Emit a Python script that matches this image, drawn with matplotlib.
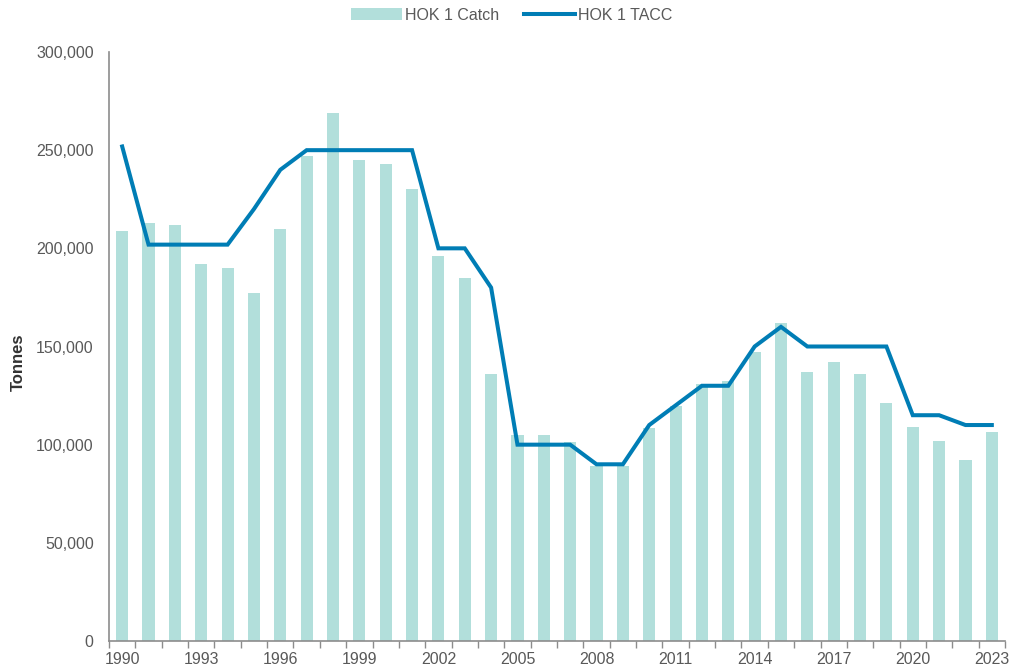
import matplotlib
matplotlib.use("Agg")
import matplotlib.pyplot as plt
from matplotlib.ticker import FuncFormatter, FixedLocator
import numpy as np

plt.rcParams['font.family'] = ['Liberation Sans', 'DejaVu Sans']

years = list(range(1990, 2024))
catch = [209000, 213000, 212000, 192000, 190000, 177000, 210000, 247000, 269000, 245000,
         243000, 230000, 196000, 185000, 136000, 105000, 105000, 101500, 89000, 89000,
         108500, 119700, 131000, 132500, 147000, 162000, 137000, 142000, 136000, 121000,
         109000, 101700, 92000, 106300]
tacc = [251883, 201883, 201883, 201883, 201883, 220000, 240000, 250000, 250000, 250000,
        250000, 250000, 200000, 200000, 180000, 100000, 100000, 100000, 90000, 90000,
        110000, 120000, 130000, 130000, 150000, 160000, 150000, 150000, 150000, 150000,
        115000, 115000, 110000, 110000]
label_years = list(range(1990, 2024, 3))

grey = '#595959'
axis_grey = '#8C8C8C'

fig = plt.figure(figsize=(10.13, 6.72), dpi=100)
ax = fig.add_axes([109/1013, 1-641/672, (1005-109)/1013, (641-52)/672])

x = np.arange(len(years))
bars = ax.bar(x, catch, width=0.46, color='#B2DFDB', label='HOK 1 Catch', zorder=2)
line, = ax.plot(x, tacc, color='#007DB5', lw=2.9, label='HOK 1 TACC', zorder=3,
                solid_joinstyle='miter')

ax.set_xlim(-0.5, len(years) - 0.5)
ax.set_ylim(0, 300000)
ax.set_yticks(np.arange(0, 300001, 50000))
ax.yaxis.set_major_formatter(FuncFormatter(lambda v, p: f"{int(v):,}"))
ax.tick_params(axis='y', length=0, pad=11, labelsize=11.5, labelcolor=grey)

ax.xaxis.set_major_locator(FixedLocator([years.index(y) for y in label_years]))
ax.set_xticklabels([str(y) for y in label_years])
ax.xaxis.set_minor_locator(FixedLocator(np.arange(-0.5, len(years), 1.0)))
ax.tick_params(axis='x', which='major', length=0, pad=8, labelsize=11.5, labelcolor=grey)
ax.tick_params(axis='x', which='minor', length=5, width=1, color=axis_grey, direction='out')

for s in ['top', 'right']:
    ax.spines[s].set_visible(False)
ax.spines['left'].set_color(axis_grey)
ax.spines['bottom'].set_color(axis_grey)
ax.spines['left'].set_linewidth(1.2)
ax.spines['bottom'].set_linewidth(1.2)

fig.text(18/1013, 1-362/672, 'Tonnes', rotation=90, ha='center', va='center',
         fontsize=12, fontweight='bold', color='#333333')

fig.legend([bars, line], ['HOK 1 Catch', 'HOK 1 TACC'],
           loc='center', bbox_to_anchor=(0.505, 1-15/672), ncol=2, frameon=False,
           fontsize=11.5, labelcolor=grey, handlelength=3.2, handletextpad=0.15,
           columnspacing=1.6, handleheight=0.8)

fig.savefig('out.png', dpi=100)
